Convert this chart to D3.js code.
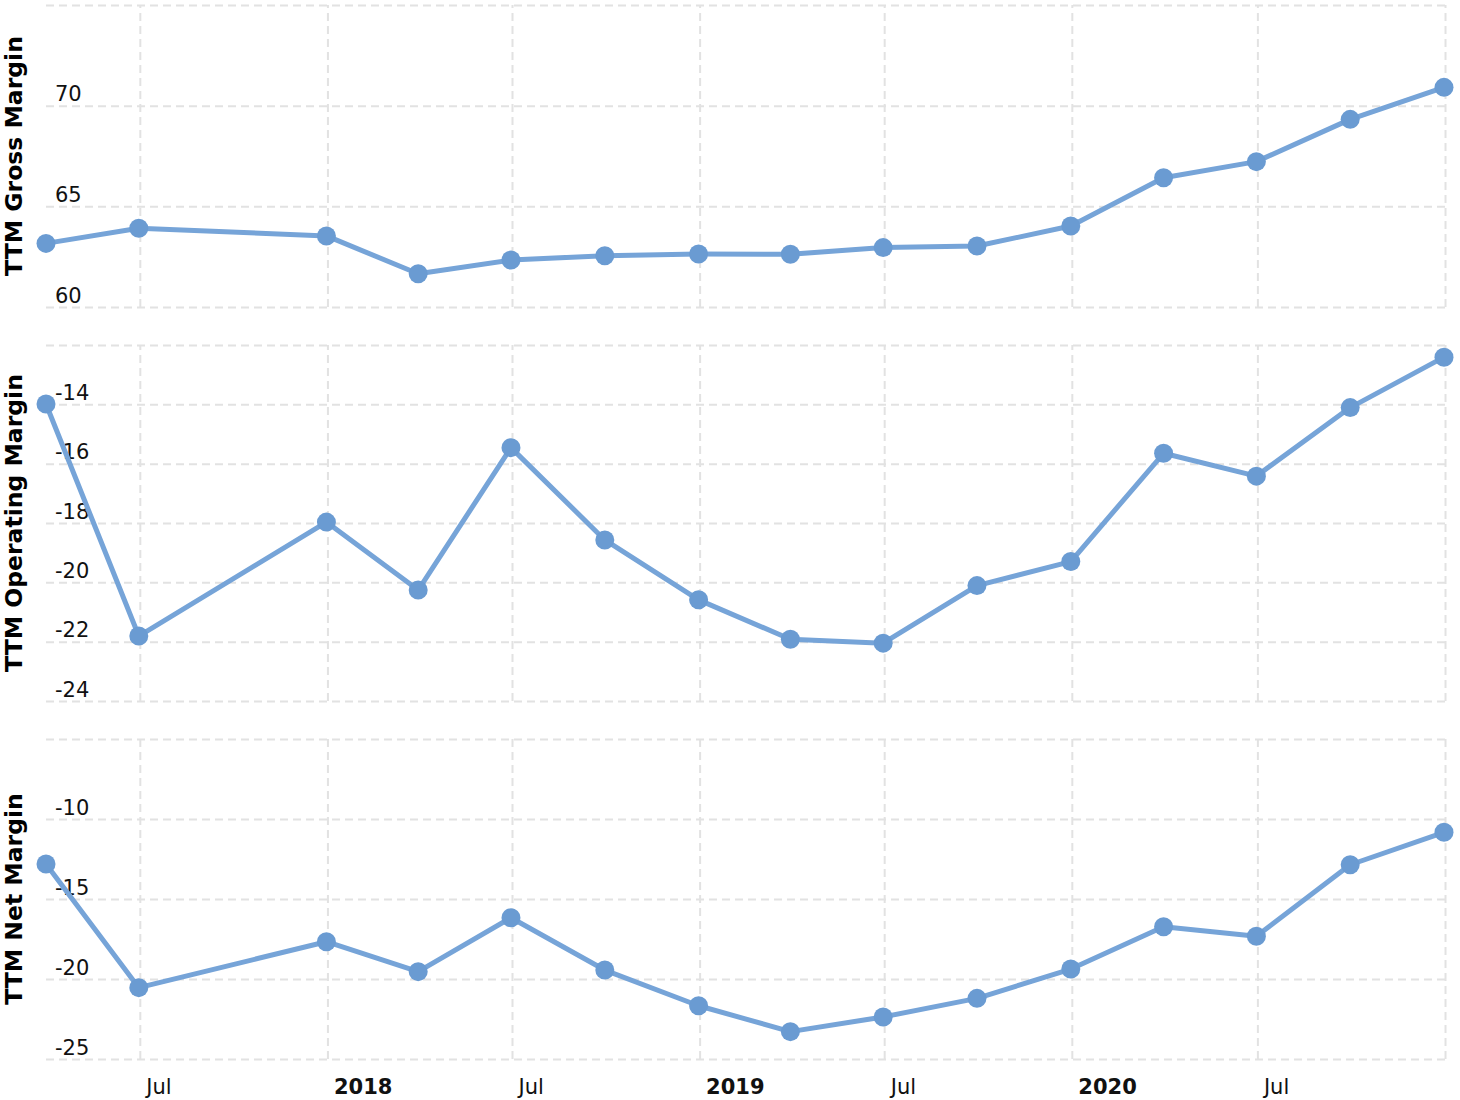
<!DOCTYPE html>
<html>
<head>
<meta charset="utf-8">
<script src="https://cdn.jsdelivr.net/npm/d3@7"></script>
<style>
  html, body { margin: 0; padding: 0; background: #fff; }
  svg { display: block; }
  text { font-family: "DejaVu Sans", Verdana, sans-serif; }
</style>
</head>
<body>
<svg id="chart" width="1460" height="1100"></svg>
<script>
// ---- data ----
const dates = ["2017-03-31","2017-06-30","2017-12-31","2018-03-31","2018-06-30","2018-09-30","2018-12-31",
               "2019-03-31","2019-06-30","2019-09-30","2019-12-31","2020-03-31","2020-06-30","2020-09-30","2020-12-31"];
const grossMargin     = [63.16, 63.91, 63.53, 61.65, 62.33, 62.55, 62.63, 62.62, 62.95, 63.03, 64.02, 66.42, 67.22, 69.32, 70.91];
const operatingMargin = [-13.99, -21.81, -17.97, -20.26, -15.46, -18.57, -20.59, -21.92, -22.05, -20.11, -19.30, -15.65, -16.42, -14.11, -12.41];
const netMargin       = [-12.81, -20.54, -17.67, -19.54, -16.17, -19.44, -21.67, -23.29, -22.37, -21.21, -19.38, -16.73, -17.33, -12.86, -10.83];

const panelTitles = ["TTM Gross Margin", "TTM Operating Margin", "TTM Net Margin"];
const grossTicks = [60, 65, 70, 75];
const operatingTicks = [-24, -22, -20, -18, -16, -14, -12];
const netTicks = [-25, -20, -15, -10, -5];

const xTickDates  = ["2017-07-01","2018-01-01","2018-07-01","2019-01-01","2019-07-01","2020-01-01","2020-07-01","2021-01-01"];
const xTickLabels = ["Jul","2018","Jul","2019","Jul","2020","Jul",""];

// ---- setup ----
const parse = d3.timeParse("%Y-%m-%d");
const svg = d3.select("#chart");
const left = 46, right = 1445;
const x = d3.scaleTime()
  .domain([parse(dates[0]), parse(dates[dates.length - 1])])
  .range([46, 1444]);

const panels = [
  { title: panelTitles[0], values: grossMargin, ticks: grossTicks, domain: [60, 75], range: [307, 5] },
  { title: panelTitles[1], values: operatingMargin, ticks: operatingTicks, domain: [-24, -12], range: [701, 345] },
  { title: panelTitles[2], values: netMargin, ticks: netTicks, domain: [-25, -5], range: [1059, 739] }
];

const gridColor = "#e2e2e2";
const lineColor = "#76a4d8";
const dotColor = "#6a9bd2";

panels.forEach((p, i) => {
  const y = d3.scaleLinear().domain(p.domain).range(p.range);
  const g = svg.append("g");

  // vertical grid lines via axis
  const xg = g.append("g")
    .attr("transform", `translate(0,${p.range[0]})`)
    .call(d3.axisBottom(x)
      .tickValues(xTickDates.map(parse))
      .tickSize(-(p.range[0] - p.range[1]))
      .tickFormat(""));
  xg.select(".domain").remove();
  xg.selectAll(".tick line")
    .attr("stroke", gridColor).attr("stroke-width", 2).attr("stroke-dasharray", "8,5");
  xg.selectAll(".tick text").remove();

  // horizontal grid lines + labels via axis
  const top = p.ticks[p.ticks.length - 1];
  const yg = g.append("g")
    .attr("transform", `translate(${left},0)`)
    .call(d3.axisRight(y)
      .tickValues(p.ticks)
      .tickSize(right - left)
      .tickFormat(d => d === top ? "" : String(d)));
  yg.select(".domain").remove();
  yg.selectAll(".tick line")
    .attr("stroke", gridColor).attr("stroke-width", 2).attr("stroke-dasharray", "8,5");
  yg.selectAll(".tick text")
    .attr("x", 9).attr("y", -5).attr("dy", null)
    .attr("text-anchor", "start")
    .attr("fill", "#111")
    .style("font-size", "21px")
    .style("font-family", '"DejaVu Sans", Verdana, sans-serif');

  // title
  const cy = (p.range[0] + p.range[1]) / 2;
  g.append("text")
    .attr("transform", `translate(22,${cy}) rotate(-90)`)
    .attr("text-anchor", "middle")
    .attr("font-weight", "bold")
    .attr("font-size", "23.5px")
    .attr("fill", "#000")
    .text(p.title);

  // line
  const pts = dates.map((d, k) => ({ date: parse(d), v: p.values[k] }));
  g.append("path")
    .datum(pts)
    .attr("fill", "none")
    .attr("stroke", lineColor)
    .attr("stroke-width", 5)
    .attr("stroke-linejoin", "round")
    .attr("d", d3.line().x(d => x(d.date)).y(d => y(d.v)));

  g.selectAll("circle.dot")
    .data(pts)
    .enter().append("circle")
    .attr("class", "dot")
    .attr("cx", d => x(d.date))
    .attr("cy", d => y(d.v))
    .attr("r", 9.5)
    .attr("fill", dotColor);
});

// bottom x-axis labels
const xa = svg.append("g")
  .attr("transform", "translate(0,1059)")
  .call(d3.axisBottom(x)
    .tickValues(xTickDates.map(parse))
    .tickSize(0)
    .tickFormat((d, k) => xTickLabels[k]));
xa.select(".domain").remove();
xa.selectAll(".tick text")
  .attr("x", 6).attr("y", 35).attr("dy", null)
  .attr("text-anchor", "start")
  .attr("fill", "#111")
  .style("font-size", "21px")
  .style("font-family", '"DejaVu Sans", Verdana, sans-serif')
  .style("font-weight", (d, k) => /^\d{4}$/.test(xTickLabels[k]) ? "bold" : "normal");
</script>
</body>
</html>
